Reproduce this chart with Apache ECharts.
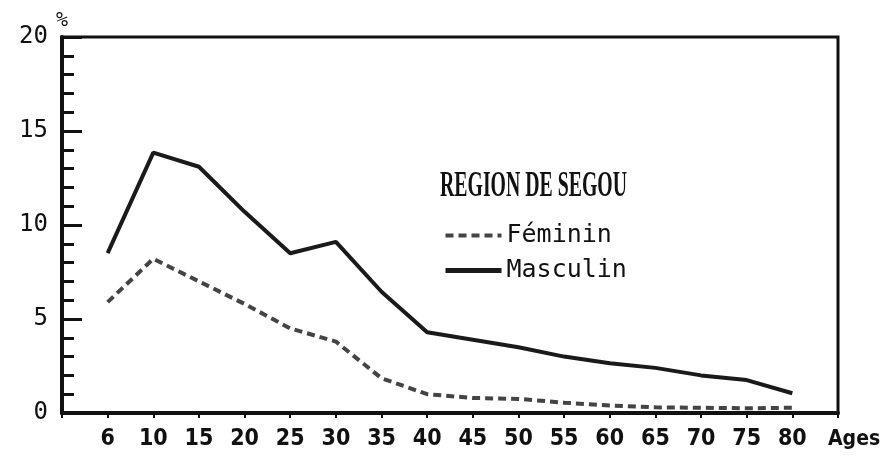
<!DOCTYPE html>
<html>
<head>
<meta charset="utf-8">
<script src="https://cdn.jsdelivr.net/npm/echarts@6/dist/echarts.min.js"></script>
<style>
    html, body { margin: 0; padding: 0; background: #fff; }
    #chart { width: 884px; height: 459px; }
</style>
</head>
<body>
<div id="chart"></div>
<script>
// tranches d'age (axe des x)
var ages = ['6', '10', '15', '20', '25', '30', '35', '40', '45', '50', '55', '60', '65', '70', '75', '80']
// pourcentages
var feminin = [5.9, 8.2, 7.0, 5.8, 4.5, 3.8, 1.85, 1.0, 0.8, 0.75, 0.55, 0.4, 0.3, 0.28, 0.25, 0.28]
var masculin = [8.5, 13.85, 13.1, 10.7, 8.5, 9.1, 6.45, 4.3, 3.9, 3.5, 3.0, 2.65, 2.4, 2.0, 1.75, 1.05]
var yTicks = [0, 5, 10, 15, 20]

var chart = echarts.init(document.getElementById('chart'))

function toPoints(list) {
    return list.map(function (v, i) { return [i, v] })
}

var option = {
    animation: false,
    backgroundColor: '#fff',
    grid: {
        left: 62,
        right: 46,
        top: 37,
        bottom: 46,
        outerBoundsMode: 'none',
        show: true,
        borderColor: '#111',
        borderWidth: 3,
    },
    graphic: [
        {
            type: 'text',
            x: 440,
            y: 169,
            scaleX: 0.55,
            style: {
                text: 'REGION DE SEGOU',
                font: 'bold 36px "Liberation Serif"',
                fill: '#111',
            },
        },
    ],
    legend: {
        orient: 'vertical',
        left: 438,
        top: 218,
        itemWidth: 56,
        itemHeight: 16,
        itemGap: 10,
        itemStyle: { opacity: 0 },
        data: [
            { name: 'Féminin', lineStyle: { width: 4 } },
            { name: 'Masculin', lineStyle: { width: 5 } },
        ],
        textStyle: {
            fontFamily: '"DejaVu Sans Mono"',
            fontSize: 25,
            color: '#111',
        },
    },
    xAxis: {
        type: 'value',
        min: -1,
        max: 16,
        interval: 1,
        name: 'Ages',
        nameLocation: 'end',
        nameGap: -10,
        nameTextStyle: {
            fontFamily: '"DejaVu Sans Condensed", "DejaVu Sans"',
            fontWeight: 'bold',
            fontSize: 21,
            color: '#111',
            verticalAlign: 'top',
            align: 'left',
            padding: [16, 0, 0, 0],
        },
        axisLine: { show: true, onZero: false, lineStyle: { color: '#111', width: 4 } },
        axisTick: { show: true, length: 5, lineStyle: { color: '#111', width: 2 } },
        axisLabel: {
            margin: 15,
            fontFamily: '"DejaVu Sans Condensed", "DejaVu Sans"',
            fontWeight: 'bold',
            fontSize: 23,
            color: '#111',
            formatter: function (v) {
                return ages[v] !== undefined ? ages[v] : ''
            },
        },
        splitLine: { show: false },
    },
    yAxis: {
        type: 'value',
        min: yTicks[0],
        max: yTicks[yTicks.length - 1],
        interval: 5,
        name: '%',
        nameLocation: 'end',
        nameGap: 6,
        nameTextStyle: {
            fontFamily: '"DejaVu Sans Mono"',
            fontSize: 20,
            color: '#111',
            align: 'left',
            padding: [0, 0, 0, -6],
        },
        axisLine: { show: true, onZero: false, lineStyle: { color: '#111', width: 4 } },
        axisTick: { show: true, inside: true, length: 20, lineStyle: { color: '#111', width: 3 } },
        minorTick: { show: true, splitNumber: 5, length: 12, lineStyle: { color: '#111', width: 3 } },
        axisLabel: {
            margin: 14,
            fontFamily: '"DejaVu Sans Mono"',
            fontSize: 24,
            color: '#111',
        },
        splitLine: { show: false },
    },
    series: [
        {
            name: 'Féminin',
            type: 'line',
            data: toPoints(feminin),
            showSymbol: false,
            symbol: 'none',
            lineStyle: { color: '#444', width: 4, type: [8, 5] },
            itemStyle: { color: '#444' },
        },
        {
            name: 'Masculin',
            type: 'line',
            data: toPoints(masculin),
            showSymbol: false,
            symbol: 'none',
            lineStyle: { color: '#1a1a1a', width: 4 },
            itemStyle: { color: '#1a1a1a' },
        },
    ],
}

chart.setOption(option)
</script>
</body>
</html>
